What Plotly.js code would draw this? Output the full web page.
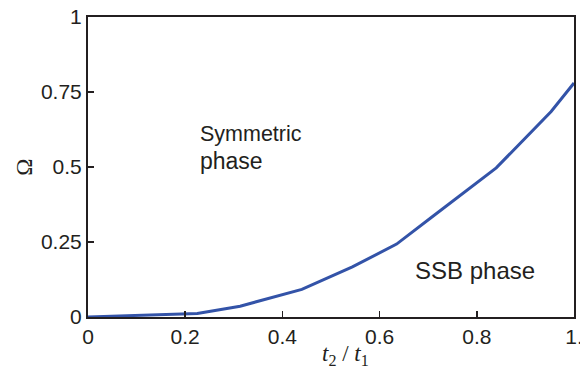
<!DOCTYPE html>
<html>
<head>
<meta charset="utf-8">
<script src="https://cdn.plot.ly/plotly-3.0.1.min.js"></script>
<style>html,body{margin:0;padding:0;background:#fff;}#chart{width:580px;height:386px;}</style>
</head>
<body>
<div id="chart"></div>
<script>
// Phase boundary data
const ratioT2T1 = [0, 0.1, 0.2, 0.225, 0.313, 0.44, 0.544, 0.635, 0.705, 0.84, 0.953, 1.0];
const omega     = [0, 0.005, 0.01, 0.012, 0.036, 0.092, 0.167, 0.243, 0.33, 0.497, 0.685, 0.78];

const xTickVals = [0, 0.2, 0.4, 0.6, 0.8, 1.0];
const xTickText = ['0', '0.2', '0.4', '0.6', '0.8', '1.'];
const yTickVals = [0, 0.25, 0.5, 0.75, 1];
const yTickText = ['0', '0.25', '0.5', '0.75', '1'];

const ink = '#231f20';
const serif = 'Liberation Serif, Times New Roman, serif';
const trace = {
  x: ratioT2T1, y: omega, type: 'scatter', mode: 'lines',
  line: {color: '#3353a8', width: 3}, hoverinfo: 'skip'
};

const layout = {
  width: 580, height: 386,
  margin: {l: 88, r: 6, t: 17, b: 69, pad: 0},
  paper_bgcolor: '#ffffff', plot_bgcolor: '#ffffff',
  showlegend: false,
  font: {family: 'Liberation Sans, Arial, sans-serif', color: ink, size: 21},
  xaxis: {
    range: [0, 1], tickvals: xTickVals, ticktext: xTickText,
    ticklabeloverflow: 'allow',
    ticks: 'inside', ticklen: 6, tickwidth: 1.5, tickcolor: ink,
    showline: true, linecolor: ink, linewidth: 2, mirror: true,
    showgrid: false, zeroline: false,
    tickfont: {size: 21, color: ink}
  },
  yaxis: {
    range: [0, 1], tickvals: yTickVals, ticktext: yTickText,
    ticklabeloverflow: 'allow',
    ticks: 'inside', ticklen: 6, tickwidth: 1.5, tickcolor: ink,
    showline: true, linecolor: ink, linewidth: 2, mirror: true,
    showgrid: false, zeroline: false,
    tickfont: {size: 21, color: ink}
  },
  annotations: [
    {x: 0.226, y: 0.61, xref: 'x', yref: 'y', xanchor: 'left', yanchor: 'middle',
     text: 'Symmetric', showarrow: false, font: {size: 21.5, color: ink}},
    {x: 0.226, y: 0.52, xref: 'x', yref: 'y', xanchor: 'left', yanchor: 'middle',
     text: 'phase', showarrow: false, font: {size: 23, color: ink}},
    {x: 0.669, y: 0.155, xref: 'x', yref: 'y', xanchor: 'left', yanchor: 'middle',
     text: 'SSB phase', showarrow: false, font: {size: 24, color: ink}},
    {x: 0.53, y: -0.125, xref: 'x', yref: 'paper', xanchor: 'center', yanchor: 'middle',
     text: '<i>t</i><sub>2</sub> / <i>t</i><sub>1</sub>', showarrow: false,
     font: {family: serif, size: 23, color: ink}},
    {x: -0.132, y: 0.5, xref: 'paper', yref: 'paper', xanchor: 'center', yanchor: 'middle',
     text: 'Ω', textangle: -90, showarrow: false,
     font: {family: serif, size: 23, color: ink}}
  ]
};

Plotly.newPlot('chart', [trace], layout, {staticPlot: true, displayModeBar: false});
</script>
</body>
</html>
